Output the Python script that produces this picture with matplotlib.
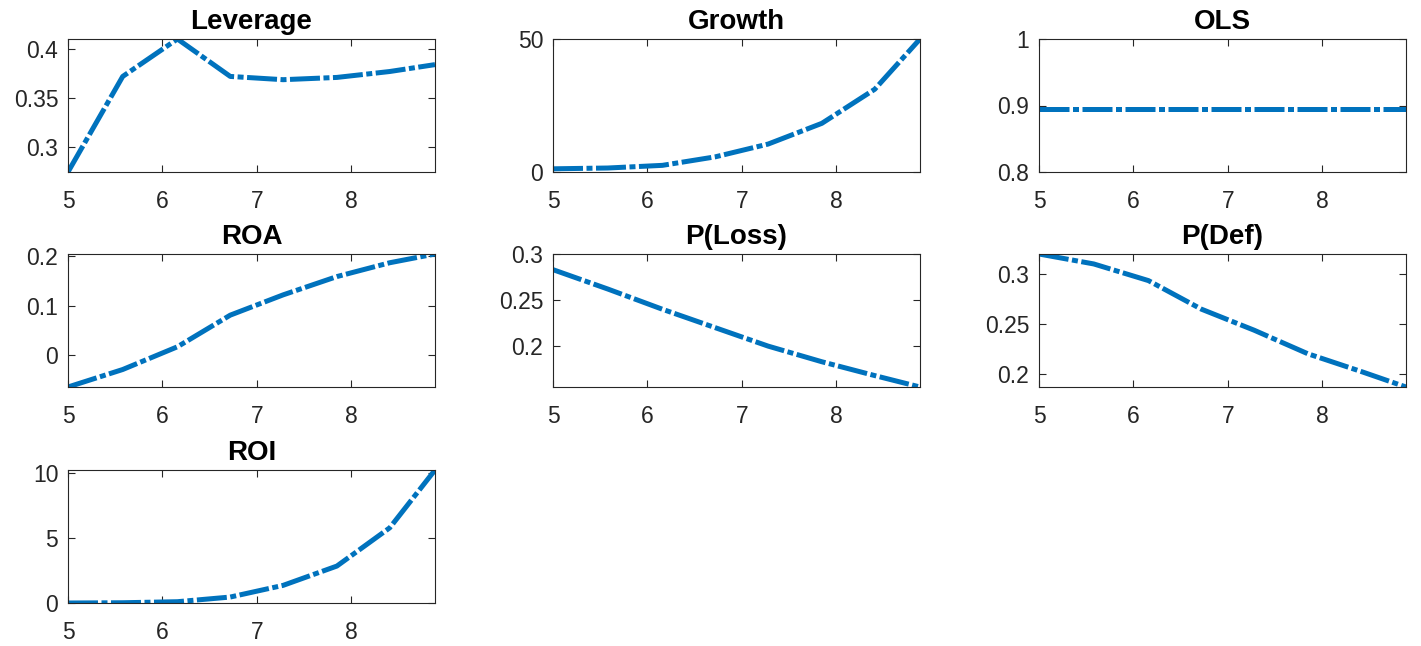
import matplotlib.pyplot as plt
from matplotlib.ticker import FixedLocator

# --- data ---
x = [5.0, 5.58, 6.16, 6.72, 7.28, 7.85, 8.41, 8.89]

leverage = [0.275, 0.372, 0.41, 0.372, 0.3687, 0.371, 0.377, 0.384]
growth = [1.2, 1.5, 2.5, 5.7, 10.5, 18.3, 31.1, 50.0]
ols = [0.895, 0.895, 0.895, 0.895, 0.895, 0.895, 0.895, 0.895]
roa = [-0.0644, -0.029, 0.017, 0.081, 0.122, 0.159, 0.187, 0.2047]
p_loss = [0.283, 0.262, 0.240, 0.220, 0.200, 0.183, 0.168, 0.1556]
p_def = [0.3199, 0.310, 0.2934, 0.265, 0.244, 0.2205, 0.203, 0.1874]
roi = [0.0, 0.02, 0.1, 0.46, 1.36, 2.85, 5.8, 10.26]

titles = ['Leverage', 'Growth', 'OLS', 'ROA', 'P(Loss)', 'P(Def)', 'ROI']
series = [leverage, growth, ols, roa, p_loss, p_def, roi]
ylims = [(0.275, 0.41), (0, 50), (0.8, 1.0), (-0.0644, 0.2047),
         (0.1556, 0.3), (0.1874, 0.3199), (0, 10.26)]
yticks = [[0.3, 0.35, 0.4], [0, 50], [0.8, 0.9, 1.0], [0, 0.1, 0.2],
          [0.2, 0.25, 0.3], [0.2, 0.25, 0.3], [0, 5, 10]]
yticklabels = [['0.3', '0.35', '0.4'], ['0', '50'], ['0.8', '0.9', '1'],
               ['0', '0.1', '0.2'], ['0.2', '0.25', '0.3'],
               ['0.2', '0.25', '0.3'], ['0', '5', '10']]

W, H = 1421, 646
fig = plt.figure(figsize=(W / 100, H / 100), dpi=100, facecolor='white')
plt.rcParams['font.family'] = ['Liberation Sans', 'DejaVu Sans']

col_left = [68, 553, 1039]
row_top = [39, 254, 470]
ax_w, ax_h = 367, 133
line_color = '#0072BD'
axis_color = '#262626'

for i, (title, y) in enumerate(zip(titles, series)):
    r, c = divmod(i, 3)
    left = col_left[c] / W
    bottom = 1 - (row_top[r] + ax_h) / H
    ax = fig.add_axes([left, bottom, ax_w / W, ax_h / H])
    # MATLAB-like dash-dot line
    ax.plot(x, y, color=line_color, linewidth=3.6,
            linestyle=(0, (6, 0.7, 1.2, 0.7)), solid_capstyle='butt')
    ax.set_xlim(5, 8.89)
    ax.set_ylim(*ylims[i])
    ax.xaxis.set_major_locator(FixedLocator([5, 6, 7, 8]))
    ax.set_xticklabels(['5', '6', '7', '8'])
    ax.set_yticks(yticks[i])
    ax.set_yticklabels(yticklabels[i])
    ax.set_title(title, fontsize=20, fontweight='bold', color='black', pad=7)
    ax.tick_params(axis='both', direction='in', length=5, width=0.8,
                   colors=axis_color, labelsize=16.5, top=True, right=True)
    ax.tick_params(axis='x', pad=13)
    ax.tick_params(axis='y', pad=7)
    for spine in ax.spines.values():
        spine.set_edgecolor(axis_color)
        spine.set_linewidth(0.8)

fig.savefig('out.png', dpi=100, facecolor='white')
